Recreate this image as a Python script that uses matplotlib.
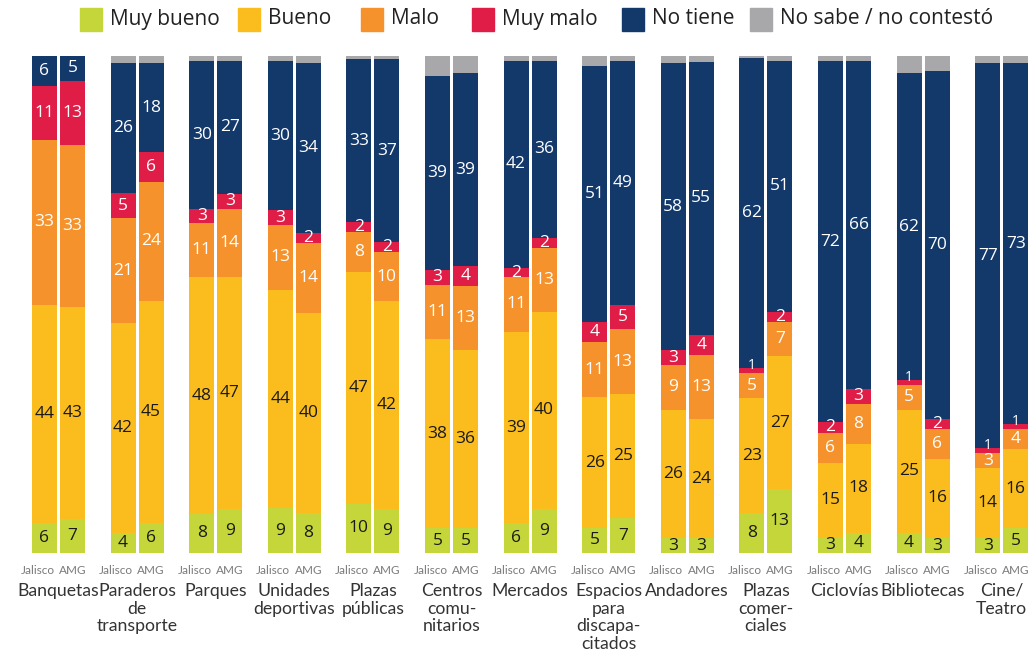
import matplotlib
matplotlib.use("Agg")
import matplotlib.pyplot as plt
from matplotlib.patches import Rectangle
import numpy as np

categories = ["Banquetas", "Paraderos\nde\ntransporte", "Parques", "Unidades\ndeportivas",
              "Plazas\npúblicas", "Centros\ncomu-\nnitarios", "Mercados", "Espacios\npara\ndiscapa-\ncitados",
              "Andadores", "Plazas\ncomer-\nciales", "Ciclovías", "Bibliotecas", "Cine/\nTeatro"]
groups = ["Jalisco", "AMG"]
series = ["Muy bueno", "Bueno", "Malo", "Muy malo", "No tiene", "No sabe / no contestó"]
colors = ["#c4d63a", "#fbbd1e", "#f6922b", "#e01d47", "#13396b", "#a8a8ab"]

# values per category: Jalisco, AMG
muy_bueno_j = [6, 4, 8, 9, 10, 5, 6, 5, 3, 8, 3, 4, 3]
muy_bueno_a = [7, 6, 9, 8, 9, 5, 9, 7, 3, 13, 4, 3, 5]
bueno_j = [44, 42, 48, 44, 47, 38, 39, 26, 26, 23, 15, 25, 14]
bueno_a = [43, 45, 47, 40, 42, 36, 40, 25, 24, 27, 18, 16, 16]
malo_j = [33, 21, 11, 13, 8, 11, 11, 11, 9, 5, 6, 5, 3]
malo_a = [33, 24, 14, 14, 10, 13, 13, 13, 13, 7, 8, 6, 4]
muy_malo_j = [11, 5, 3, 3, 2, 3, 2, 4, 3, 1, 2, 1, 1]
muy_malo_a = [13, 6, 3, 2, 2, 4, 2, 5, 4, 2, 3, 2, 1]
no_tiene_j = [6, 26, 30, 30, 33, 39, 42, 51, 58, 62, 72, 62, 77]
no_tiene_a = [5, 18, 27, 34, 37, 39, 36, 49, 55, 51, 66, 70, 73]
no_sabe_j = [0, 1.5, 1, 1, 0.7, 4, 1, 2, 1.5, 0.5, 1, 3.5, 1.5]
no_sabe_a = [0, 1.5, 1, 1.5, 0.7, 3.5, 1, 1, 1.2, 1, 1, 3, 1.5]

data_j = np.array([muy_bueno_j, bueno_j, malo_j, muy_malo_j, no_tiene_j, no_sabe_j], float)
data_a = np.array([muy_bueno_a, bueno_a, malo_a, muy_malo_a, no_tiene_a, no_sabe_a], float)

W, H = 1031, 657
fig = plt.figure(figsize=(W / 100, H / 100), dpi=100)
top_px, bot_px = 56, 553
ax = fig.add_axes([0, (H - bot_px) / H, 1, (bot_px - top_px) / H])
spacing = 78.6
ax.set_xlim(-58.5 / spacing, (W - 58.5) / spacing)
ax.set_ylim(0, 100)
ax.axis("off")

x = np.arange(len(categories))
bw = 25 / spacing
off = 14 / spacing
text_colors = ["#1a1a1a", "#1a1a1a", "white", "white", "white", None]
num_font = "Open Sans"

for data, dx in ((data_j, -off), (data_a, off)):
    totals = data.sum(axis=0)
    norm = data / totals * 100
    bottom = np.zeros(len(categories))
    for k in range(len(series)):
        ax.bar(x + dx, norm[k], bw, bottom=bottom, color=colors[k], edgecolor="none")
        if text_colors[k] is not None:
            for i in range(len(categories)):
                v = data[k, i]
                if v > 0:
                    yy = bottom[i] + norm[k, i] / 2
                    if v < 2:
                        yy += 1.0
                    ax.text(x[i] + dx, yy, f"{int(v)}",
                            ha="center", va="center", color=text_colors[k],
                            fontsize=12.5 if v >= 2 else 10, family=num_font)
        bottom += norm[k]

# sub-labels and category names
for i, cat in enumerate(categories):
    ax.text(x[i] - off + bw / 2 - 2.5 / spacing, -3.5, groups[0], ha="right", va="center",
            fontsize=8.5, color="#7a7a7a", family="Lato")
    ax.text(x[i] + off, -3.5, groups[1], ha="center", va="center",
            fontsize=8.5, color="#7a7a7a", family="Lato")
    ax.text(x[i], -6.0, cat, ha="center", va="top", fontsize=12.7, color="#333333",
            family="Lato", linespacing=1.14)

# legend
leg_x = [80, 238, 361, 472, 622, 750]
for k in range(len(series)):
    fig.patches.append(Rectangle((leg_x[k] / W, (H - 31) / H), 22 / W, 23 / H,
                                 transform=fig.transFigure, color=colors[k]))
    fig.text((leg_x[k] + 30) / W, (H - 19) / H, series[k], ha="left", va="center",
             fontsize=15, color="#222222", family="Open Sans")

fig.savefig("out.png", dpi=100)
